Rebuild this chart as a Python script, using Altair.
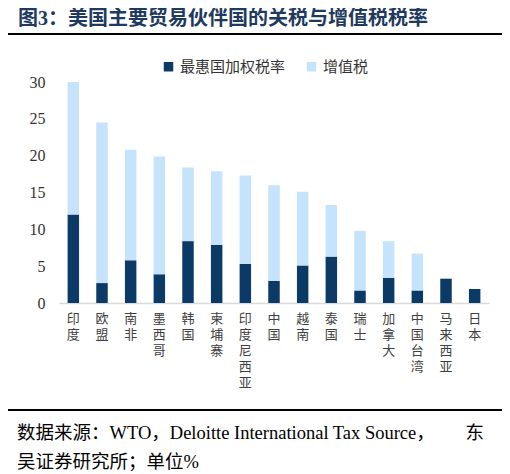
import altair as alt
import pandas as pd

# 国家/地区
countries = ['印度', '欧盟', '南非', '墨西哥', '韩国', '柬埔寨', '印度尼西亚', '中国',
             '越南', '泰国', '瑞士', '加拿大', '中国台湾', '马来西亚', '日本']
# 最惠国加权税率 (%)
mfn = [12.0, 2.7, 5.8, 3.9, 8.4, 7.9, 5.3, 3.0, 5.1, 6.3, 1.7, 3.4, 1.7, 3.3, 1.9]
# 增值税 (%)
vat = [18.0, 21.8, 15.0, 16.0, 10.0, 10.0, 12.0, 13.0, 10.0, 7.0, 8.1, 5.0, 5.0, 0.0, 0.0]

series = ['最惠国加权税率', '增值税']
colors = ['#0b3a66', '#c5e3fb']

serif = 'Liberation Serif, Noto Sans CJK SC'

rows = []
for c, m, v in zip(countries, mfn, vat):
    rows.append({'country': c, 'type': series[0], 'value': m, 'ord': 0})
    rows.append({'country': c, 'type': series[1], 'value': v, 'ord': 1})
df = pd.DataFrame(rows)

bars = alt.Chart(df).mark_bar().encode(
    x=alt.X('country:N', sort=countries,
            scale=alt.Scale(paddingInner=0.6, paddingOuter=0.3),
            axis=alt.Axis(title=None, labelAngle=0, labelExpr="split(datum.label, '')",
                          labelBaseline='top', labelAlign='center', labelLineHeight=16,
                          labelFontSize=13, labelFont=serif, labelColor='#404040',
                          labelPadding=9, labelOverlap=False, ticks=False,
                          domainColor='#d9d9d9', domainWidth=1.5)),
    y=alt.Y('value:Q', stack='zero',
            scale=alt.Scale(domain=[0, 30], nice=False),
            axis=alt.Axis(title=None, values=[0, 5, 10, 15, 20, 25, 30], grid=False,
                          domain=False, ticks=False, labelPadding=14,
                          labelFontSize=16, labelFont=serif, labelColor='#333333')),
    color=alt.Color('type:N', scale=alt.Scale(domain=series, range=colors),
                    legend=alt.Legend(title=None, orient='none', direction='horizontal',
                                      legendX=102, legendY=-23, symbolType='square',
                                      symbolSize=90, symbolStrokeWidth=0,
                                      labelFontSize=15, labelFont=serif,
                                      labelColor='#333333', columnPadding=18)),
    order=alt.Order('ord:Q')
)

one = alt.Data(values=[{}])


def label(text, x, y, size, align='left', weight='normal', color='#000000'):
    return alt.Chart(one).mark_text(
        text=text, align=align, baseline='middle', fontSize=size,
        fontWeight=weight, font=serif, color=color
    ).encode(x=alt.value(x), y=alt.value(y))


title = label('图3：美国主要贸易伙伴国的关税与增值税税率', -41, -63.5, 20,
              weight='bold', color='#1f3a5f')

top_line = alt.Chart(one).mark_rule(color='#000000', strokeWidth=2).encode(
    x=alt.value(-54), x2=alt.value(443), y=alt.value(-48))

bottom_line = alt.Chart(one).mark_rule(color='#000000', strokeWidth=2).encode(
    x=alt.value(-54), x2=alt.value(443), y=alt.value(328))

src1 = label('数据来源：WTO，Deloitte International Tax Source，', -42, 351, 18.5)
src1b = label('东', 425, 351, 18.5, align='right')
src2 = label('吴证券研究所；单位%', -42, 380, 18.5)

chart = alt.layer(bars, title, top_line, bottom_line, src1, src1b, src2).properties(
    width=430, height=221,
    background='white',
    autosize=alt.AutoSizeParams(type='none'),
    padding={'left': 51, 'top': 74, 'right': 13, 'bottom': 170}
).configure_view(stroke='transparent', strokeWidth=0)

chart.save("out.html", embed_options={"renderer": "svg", "actions": False})
